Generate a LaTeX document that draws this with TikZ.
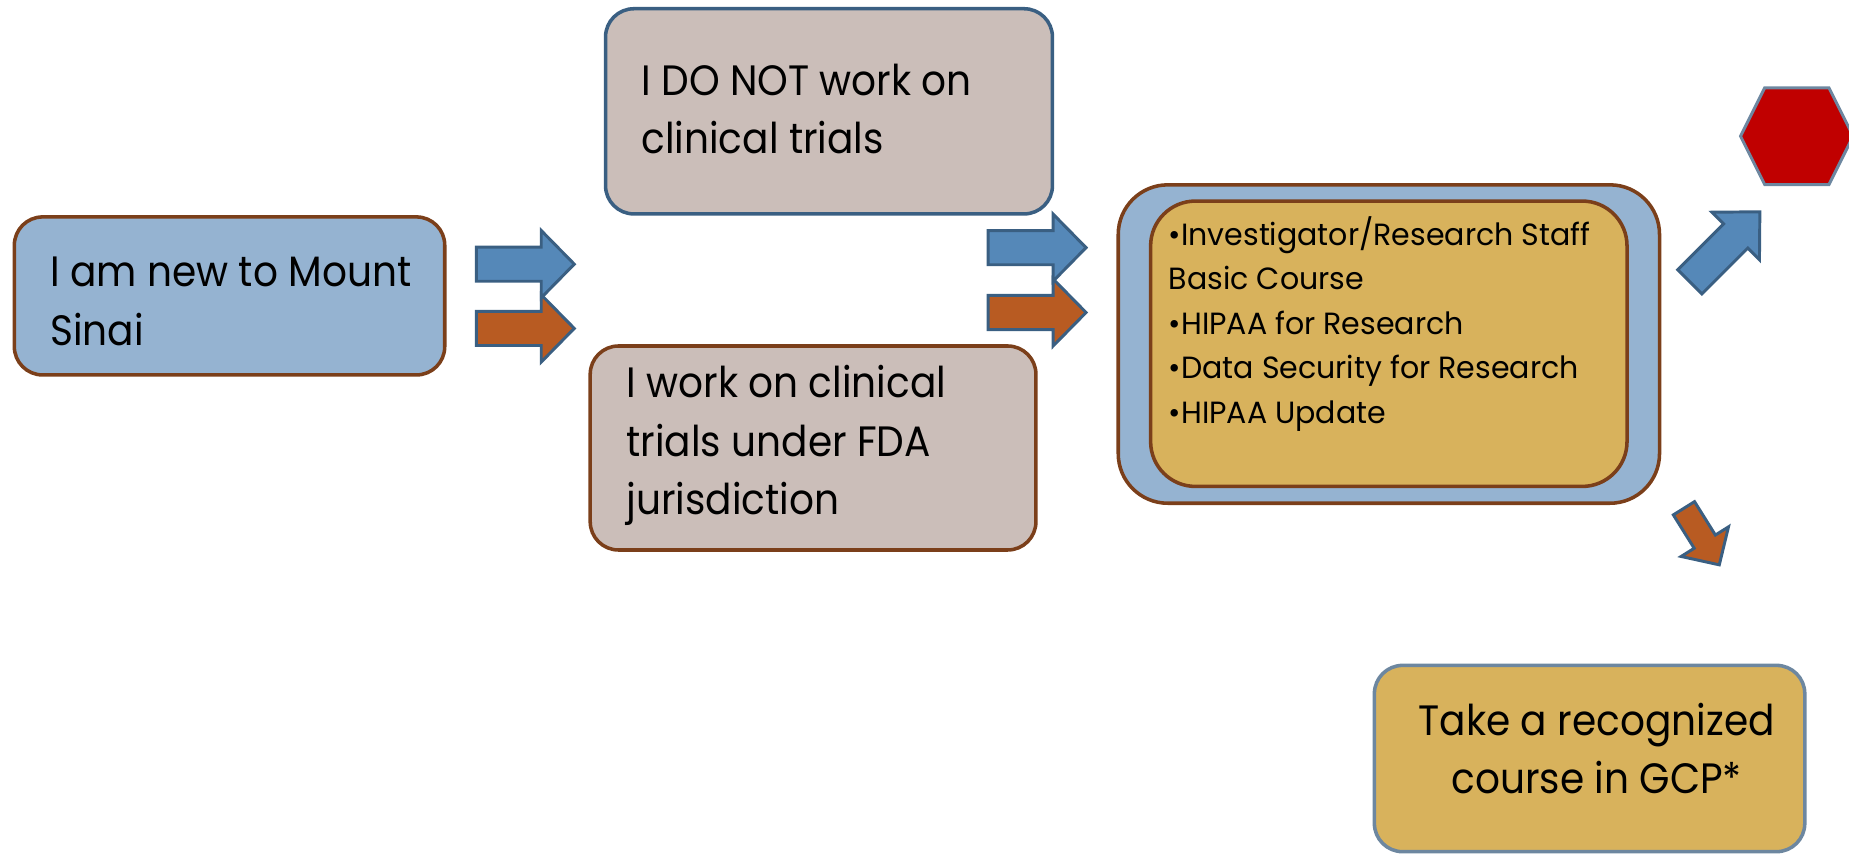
\documentclass[tikz,border=0pt]{standalone}
\usepackage{fontspec}
\setmainfont[FakeStretch=0.92]{Poppins}
\newfontfamily\innerfont[FakeStretch=0.98]{Poppins}
\definecolor{lblue}{HTML}{95B3D1}
\definecolor{brownb}{HTML}{7B3F1A}
\definecolor{pinkg}{HTML}{CBBEB9}
\definecolor{dblue}{HTML}{3A5F82}
\definecolor{ablue}{HTML}{5588B8}
\definecolor{aorange}{HTML}{B85B22}
\definecolor{gold}{HTML}{D8B25C}
\definecolor{hexred}{HTML}{C00000}
\definecolor{gblue}{HTML}{6D87A0}
\newcommand\barrow[7]{%
  \begin{scope}[shift={#2},rotate=#3]
    \draw[#1] (0,-#5) -- ({#4-#7},-#5) -- ({#4-#7},-#6) -- (#4,0) -- ({#4-#7},#6) -- ({#4-#7},#5) -- (0,#5) -- cycle;
  \end{scope}}
\begin{document}
\begin{tikzpicture}[x=1pt,y=-1pt,
  box/.style={draw, line width=3pt, rounded corners=24pt, inner sep=0pt, outer sep=0pt},
  txt/.style={anchor=base west, inner sep=0pt, align=left, font=\fontsize{36}{49.3}\selectfont},
  smalltxt/.style={font=\innerfont\fontsize{26}{37.75}\selectfont},
  blockb/.style={draw=dblue, fill=ablue, line width=2.5pt, line join=miter},
  blocko/.style={draw=dblue, fill=aorange, line width=2.5pt, line join=miter}]
\useasboundingbox (0,0) rectangle (1568,725.9);
% boxes
\node[box, draw=brownb, fill=lblue, minimum width=365pt, minimum height=134pt] (new) at (194.65,250.95) {};
\node[box, draw=dblue, fill=pinkg, minimum width=379pt, minimum height=174pt] (notrials) at (703,94.4) {};
\node[box, draw=brownb, fill=pinkg, minimum width=378pt, minimum height=173pt] (trials) at (689.5,379.9) {};
\node[box, draw=brownb, fill=lblue, rounded corners=42pt, minimum width=459pt, minimum height=270pt] (outer) at (1177.8,291.75) {};
\node[box, draw=brownb, fill=gold, rounded corners=38pt, minimum width=404pt, minimum height=242pt] (inner) at (1177.75,291.5) {};
\node[box, draw=gblue, fill=gold, minimum width=365pt, minimum height=158pt] (gcp) at (1348,643.25) {};
% stop hexagon
\draw[draw=gblue, fill=hexred, line width=2.5pt, line join=miter] (1476,115.5) -- (1496.5,74.5) -- (1551,74.5) -- (1571.5,115.5) -- (1551,156.5) -- (1496.5,156.5) -- cycle;
% arrows
\barrow{blockb}{(404,224)}{0}{83}{14.5}{28.5}{28}
\barrow{blocko}{(404,278.5)}{0}{83}{14.5}{28.5}{28}
\barrow{blockb}{(838,210)}{0}{83}{14.5}{28.5}{28}
\barrow{blocko}{(838,265)}{0}{83}{14.5}{28.5}{28}
\barrow{blockb}{(1433,239)}{45}{84}{14.5}{28.5}{29}
\barrow{blocko}{(1428,431)}{-58}{56.6}{10.6}{23.7}{23.2}
% texts (anchor = baseline of the last line)
\node[txt] (t1) at (42.3,292.6) {I am new to Mount\\Sinai};
\node[txt] (t2) at (543.7,130) {I DO NOT work on\\clinical trials};
\node[txt] (t3) at (531,436) {I work on clinical\\trials under FDA\\jurisdiction};
\node[txt, smalltxt] (t4) at (991,359) {•Investigator/Research Staff\\Basic Course\\•HIPAA for Research\\•Data Security for Research\\•HIPAA Update};
\node[txt, anchor=base, align=center] (t5) at (1354,672.7) {Take a recognized\\course in GCP*};
\end{tikzpicture}
\end{document}
